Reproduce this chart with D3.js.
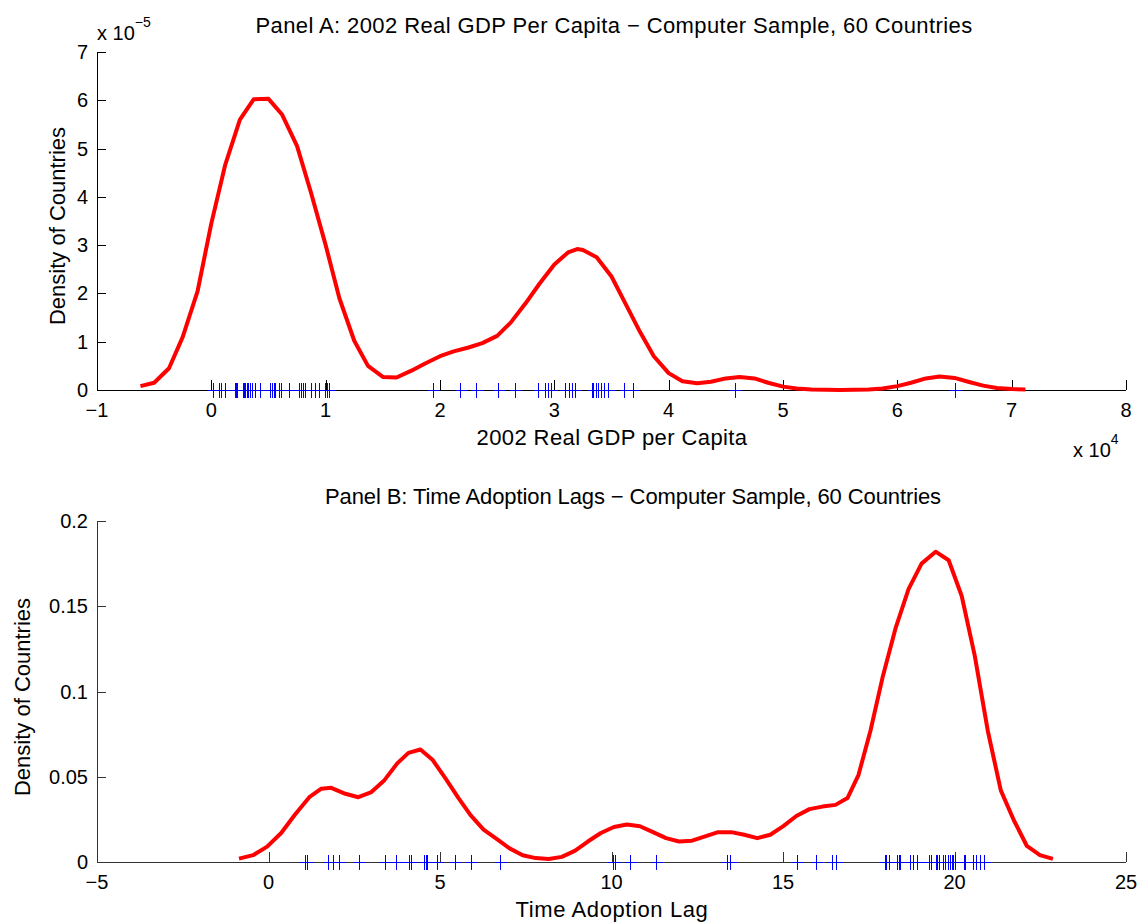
<!DOCTYPE html>
<html><head><meta charset="utf-8">
<script src="https://cdn.jsdelivr.net/npm/d3@7"></script>
<style>body{margin:0;background:#fff}svg{display:block}text{font-family:"Liberation Sans",Arial,Helvetica,sans-serif;fill:#000}</style>
</head><body><svg id="c" width="1144" height="922"></svg>
<script>
// Panel A: density curve (x in 1e4 dollars, y in 1e-5)
const gdpGrid = [-0.62,-0.5,-0.37,-0.25,-0.12,0.0,0.12,0.25,0.37,0.5,0.62,0.75,0.87,1.0,1.12,1.25,1.37,1.5,1.62,1.75,1.87,2.0,2.12,2.25,2.37,2.5,2.62,2.75,2.87,3.0,3.12,3.2,3.25,3.37,3.5,3.62,3.75,3.87,4.0,4.12,4.25,4.37,4.5,4.62,4.75,4.87,5.0,5.12,5.25,5.5,5.75,5.87,6.0,6.12,6.25,6.37,6.5,6.62,6.75,6.87,7.0,7.12];
const gdpDensity = [0.08,0.15,0.45,1.1,2.05,3.45,4.65,5.6,6.02,6.03,5.7,5.05,4.1,3.0,1.9,1.02,0.5,0.27,0.26,0.4,0.55,0.7,0.8,0.88,0.97,1.12,1.4,1.8,2.2,2.6,2.85,2.92,2.9,2.75,2.35,1.8,1.2,0.7,0.35,0.18,0.14,0.17,0.24,0.27,0.24,0.15,0.07,0.03,0.01,0.0,0.01,0.03,0.08,0.15,0.24,0.28,0.25,0.17,0.09,0.04,0.02,0.01];
const gdpObs = [0.018,0.07,0.082,0.123,0.204,0.216,0.228,0.274,0.286,0.297,0.31,0.324,0.339,0.353,0.382,0.426,0.514,0.528,0.549,0.56,0.595,0.61,0.682,0.77,0.785,0.805,0.817,0.872,0.907,0.945,0.992,1.009,1.027,
  1.942,2.176,2.316,2.506,2.657,2.856,2.92,2.943,2.972,3.095,3.124,3.153,3.182,3.328,3.342,3.363,3.386,3.407,3.436,3.468,3.613,3.692,4.58,6.5];
const gdpXTicks = [-1,0,1,2,3,4,5,6,7,8];
const gdpYTicks = [0,1,2,3,4,5,6,7];

// Panel B: density curve of time adoption lags
const lagGrid = [-0.86,-0.45,-0.04,0.37,0.78,1.19,1.54,1.83,2.24,2.62,3.0,3.38,3.76,4.08,4.43,4.78,5.16,5.54,5.89,6.27,6.65,7.03,7.41,7.79,8.17,8.55,8.93,9.31,9.69,10.07,10.45,10.83,11.21,11.59,11.97,12.35,12.73,13.11,13.49,13.87,14.25,14.63,15.01,15.39,15.77,16.15,16.53,16.88,17.2,17.55,17.9,18.28,18.66,19.04,19.45,19.83,20.21,20.59,20.97,21.35,21.73,22.11,22.49,22.87];
const lagDensity = [0.002,0.004,0.009,0.017,0.028,0.038,0.043,0.0435,0.04,0.038,0.041,0.048,0.058,0.064,0.066,0.06,0.049,0.0375,0.0275,0.019,0.0135,0.008,0.004,0.0023,0.0018,0.003,0.0065,0.012,0.017,0.0205,0.022,0.021,0.0175,0.014,0.012,0.0125,0.015,0.0175,0.0175,0.016,0.014,0.016,0.021,0.027,0.031,0.0325,0.0335,0.0375,0.051,0.077,0.108,0.137,0.16,0.175,0.182,0.177,0.156,0.121,0.077,0.042,0.0245,0.0094,0.004,0.0018];
const lagObs = [1.073,1.12,1.736,1.87,2.047,2.652,3.392,3.705,4.094,4.143,4.532,4.582,4.63,4.92,5.44,5.898,6.754,
  10.04,10.09,10.53,11.29,13.38,13.45,15.41,15.96,16.42,16.55,
  17.96,18.0,18.1,18.33,18.38,18.42,18.69,18.78,18.91,19.27,19.32,19.45,19.5,19.54,19.66,19.73,19.8,19.87,19.92,19.97,20.02,20.27,20.32,20.54,20.63,20.73,20.85];
const lagXTicks = [-5,0,5,10,15,20,25];
const lagYTicks = [0,0.05,0.1,0.15,0.2];

const svg = d3.select("#c");
const FS = 20, LFS = 22;
const fmtMinus = d => String(d).replace("-", "\u2212");

function panel(cfg){
  const x = d3.scaleLinear().domain(cfg.xd).range([97,1126]);
  const y = d3.scaleLinear().domain(cfg.yd).range([cfg.bottom,cfg.top]);
  const g = svg.append("g");
  g.append("line").attr("x1",97).attr("x2",1126).attr("y1",cfg.bottom+0.5).attr("y2",cfg.bottom+0.5).attr("stroke",cfg.axisColor).attr("stroke-width",1);
  g.append("line").attr("x1",97.5).attr("x2",97.5).attr("y1",cfg.top).attr("y2",cfg.bottom).attr("stroke",cfg.axisColor).attr("stroke-width",1);
  cfg.xt.forEach(t=>{
    const px = Math.round(x(t))+0.5;
    g.append("line").attr("x1",px).attr("x2",px).attr("y1",cfg.bottom).attr("y2",cfg.bottom-10).attr("stroke",cfg.axisColor);
    g.append("text").attr("x",x(t)).attr("y",cfg.bottom+27).attr("text-anchor","middle").attr("font-size",FS).text(fmtMinus(t));
  });
  cfg.yt.forEach(t=>{
    const py = Math.round(y(t))+0.5;
    g.append("line").attr("x1",97).attr("x2",106).attr("y1",py).attr("y2",py).attr("stroke",cfg.axisColor);
    g.append("text").attr("x",88).attr("y",y(t)+7).attr("text-anchor","end").attr("font-size",FS).text(cfg.yfmt(t));
  });
  const rug = g.append("g").attr("stroke","#0000ff").attr("stroke-width",1).attr("shape-rendering","crispEdges");
  cfg.obs.forEach(v=>{
    const px = Math.round(x(v))+0.5;
    rug.append("line").attr("x1",px).attr("x2",px).attr("y1",cfg.bottom-7).attr("y2",cfg.bottom+8);
    rug.append("line").attr("x1",px-6).attr("x2",px+6).attr("y1",cfg.bottom+0.5).attr("y2",cfg.bottom+0.5);
  });
  const line = d3.line().x((d,i)=>x(cfg.grid[i])).y(d=>y(d));
  g.append("path").datum(cfg.dens).attr("d",line).attr("fill","none").attr("stroke","#ff0000").attr("stroke-width",4).attr("stroke-linejoin","round");
  g.append("text").attr("x",cfg.titleX).attr("y",cfg.titleY).attr("text-anchor","middle").attr("font-size",LFS).attr("letter-spacing",cfg.titleLS).text(cfg.title);
  g.append("text").attr("x",612).attr("y",cfg.xlabY).attr("text-anchor","middle").attr("font-size",LFS).attr("letter-spacing",cfg.xlabLS).text(cfg.xlab);
  g.append("text").attr("transform",`translate(${cfg.ylabX},${cfg.ylabC}) rotate(-90)`).attr("text-anchor","middle").attr("font-size",LFS).text("Density of Countries");
  return {x,y,g};
}

panel({xd:[-1,8], yd:[0,7], top:52, bottom:390, xt:gdpXTicks, yt:gdpYTicks, yfmt:d=>String(d),
  obs:gdpObs, grid:gdpGrid, dens:gdpDensity, axisColor:"#000",
  title:"Panel A: 2002 Real GDP Per Capita \u2212 Computer Sample, 60 Countries", titleX:614, titleY:33, titleLS:0.4,
  xlab:"2002 Real GDP per Capita", xlabY:445, xlabLS:0.4, ylabX:65, ylabC:226});

panel({xd:[-5,25], yd:[0,0.2], top:521, bottom:862, xt:lagXTicks, yt:lagYTicks, yfmt:d=>d===0?"0":String(d),
  obs:lagObs, grid:lagGrid, dens:lagDensity, axisColor:"#333",
  title:"Panel B: Time Adoption Lags \u2212 Computer Sample, 60 Countries", titleX:633, titleY:504, titleLS:-0.1,
  xlab:"Time Adoption Lag", xlabY:917, xlabLS:0.6, ylabX:30, ylabC:697});

const e1 = svg.append("text").attr("x",97).attr("y",40).attr("font-size",FS);
e1.append("tspan").text("x 10");
e1.append("tspan").attr("dy",-13).attr("font-size",14).text("\u22125");
const e2 = svg.append("text").attr("x",1073).attr("y",457).attr("font-size",FS);
e2.append("tspan").text("x 10");
e2.append("tspan").attr("dy",-13).attr("font-size",14).text("4");
</script></body></html>
